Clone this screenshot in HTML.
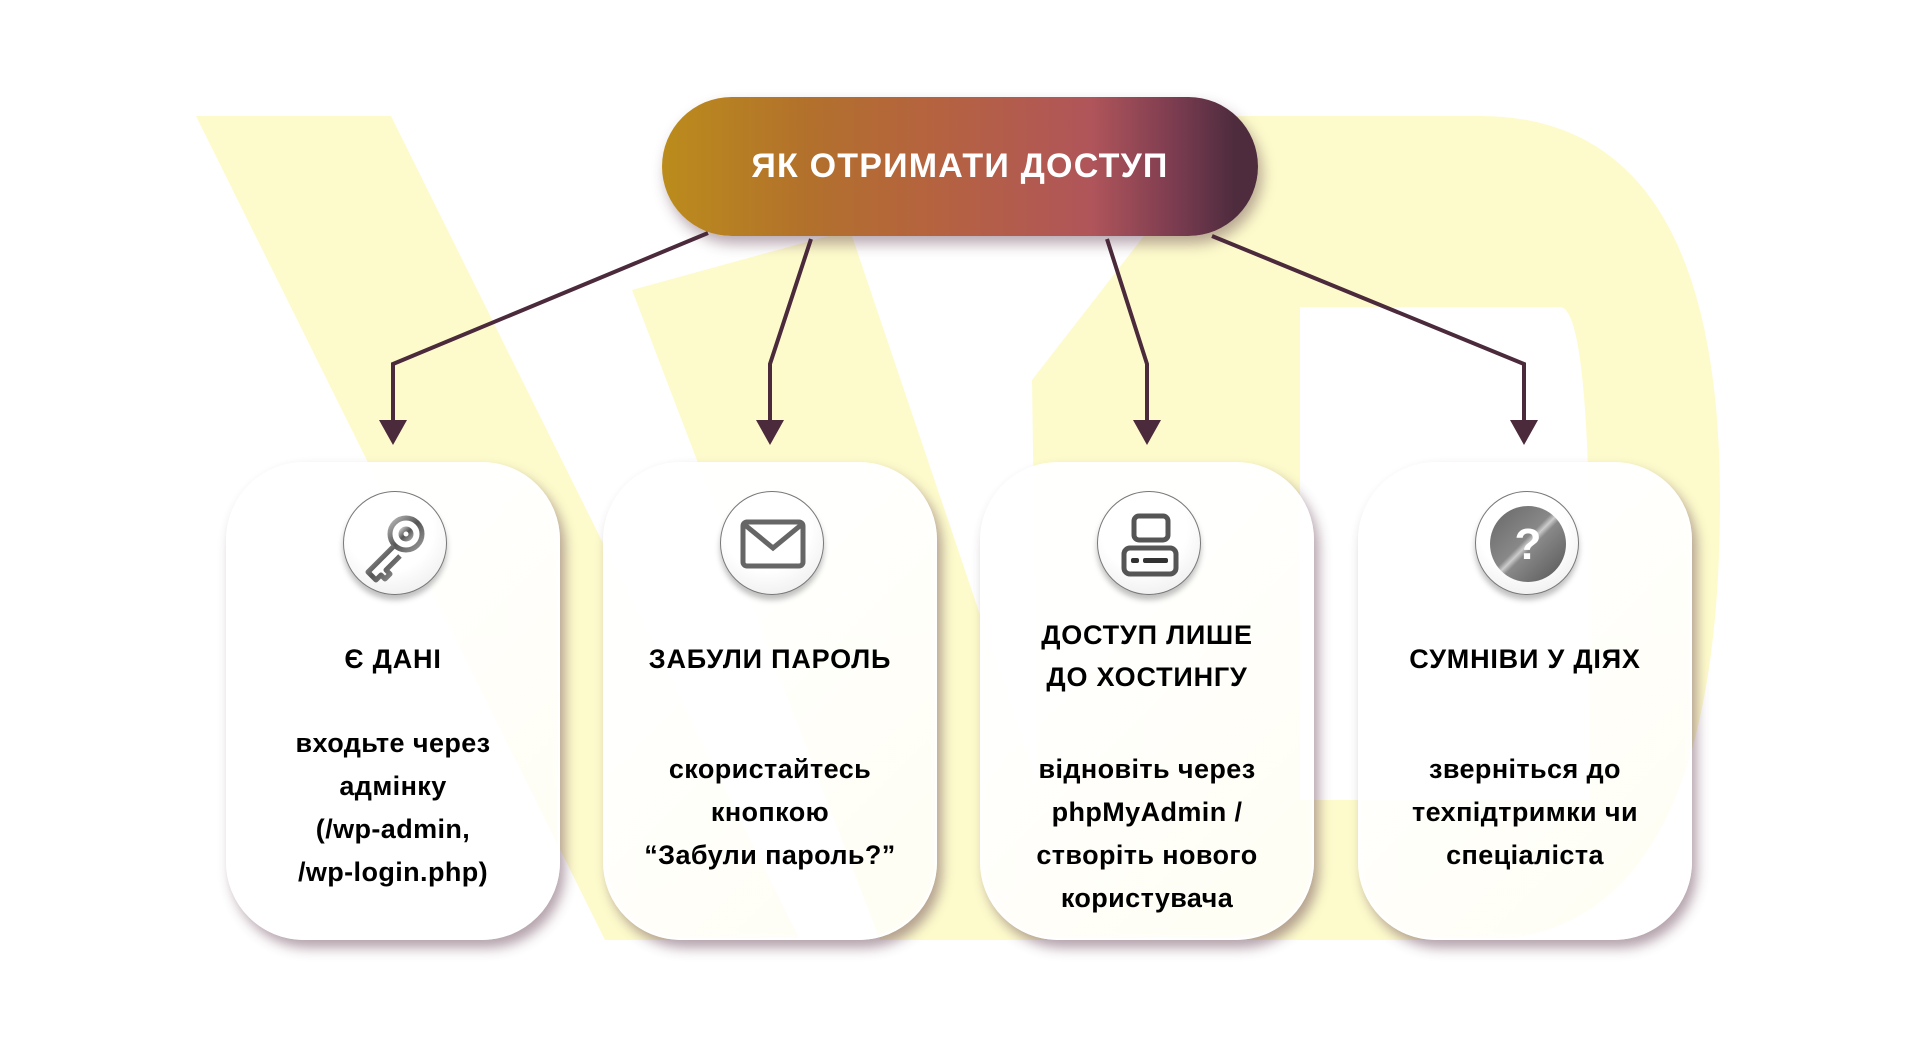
<!DOCTYPE html>
<html><head><meta charset="utf-8"><style>
html,body{margin:0;padding:0;background:#fff;}
body{width:1920px;height:1038px;position:relative;overflow:hidden;font-family:"Liberation Sans","DejaVu Sans",sans-serif;}
svg.bg{position:absolute;left:0;top:0;}
.pill{position:absolute;left:662px;top:97px;width:596px;height:139px;border-radius:70px;
background:linear-gradient(90deg,#bb8c1c 0%,#b2702c 25%,#b5633f 45%,#b0555a 72%,#7c3c50 86%,#4e2c3e 96%);
box-shadow:4px 8px 14px rgba(80,40,60,0.4);color:#fff;font-weight:bold;font-size:34px;letter-spacing:1.2px;
display:flex;align-items:center;justify-content:center;}
.card{position:absolute;top:462px;width:334px;height:478px;border-radius:78px;
background:linear-gradient(135deg,rgba(255,255,255,0.97) 35%,rgba(255,255,255,0.75) 100%);
border:2px solid #fff;box-sizing:border-box;
box-shadow:5px 8px 12px rgba(90,50,70,0.45), inset 0 0 10px rgba(255,255,255,0.8);}
.ic{position:absolute;left:115px;top:27px;width:104px;height:104px;border-radius:50%;box-sizing:border-box;
border:1.5px solid #777;background:radial-gradient(circle at 45% 35%,#fff 50%,#e6e6e6 100%);
box-shadow:0 5px 6px rgba(0,0,0,0.25);}
.ic svg{position:absolute;left:0;top:0;}
.t{position:absolute;left:0;width:100%;text-align:center;font-weight:bold;font-size:27px;color:#000;letter-spacing:0.8px;line-height:42px;}
.b{position:absolute;left:0;width:100%;text-align:center;font-weight:bold;font-size:27px;color:#000;letter-spacing:0.4px;line-height:43px;}
</style></head><body>
<svg class="bg" width="1920" height="1038">
<g fill="#fdfbcc">
<polygon points="196,116 391,116 800,940 605,940"/>
<polygon points="632,290 850,230 1090,940 880,940"/>
<path fill-rule="evenodd" d="M1237,116 L1480,116 Q1720,116 1720,500 Q1720,940 1480,940 L1040,940 L1032,380 Z M1300,307 L1560,307 Q1590,307 1590,600 L1590,800 L1300,800 Z"/>
</g>
<g stroke="#4b2a3c" stroke-width="4" fill="none">
<polyline points="708,233 393,364 393,425"/>
<polyline points="811,239 770,364 770,425"/>
<polyline points="1107,239 1147,364 1147,425"/>
<polyline points="1212,236 1524,364 1524,425"/>
</g>
<g fill="#4b2a3c">
<polygon points="379,420 407,420 393,445"/>
<polygon points="756,420 784,420 770,445"/>
<polygon points="1133,420 1161,420 1147,445"/>
<polygon points="1510,420 1538,420 1524,445"/>
</g>
</svg>
<div class="pill">ЯК ОТРИМАТИ ДОСТУП</div>

<div class="card" style="left:226px">
<div class="ic"><svg width="104" height="104"><defs><linearGradient id="g1" x1="0" y1="0" x2="1" y2="1"><stop offset="0" stop-color="#bbb"/><stop offset="0.5" stop-color="#555"/><stop offset="1" stop-color="#999"/></linearGradient></defs>
<g fill="none" stroke="url(#g1)" stroke-width="5" stroke-linejoin="round"><circle cx="62" cy="42" r="16"/><circle cx="62" cy="42" r="5"/><path d="M50,54 L24,80 L32,88 L37,83 L41,87 L46,82 L42,78 L56,64"/></g></svg></div>
<div class="t" style="top:174px">Є ДАНІ</div>
<div class="b" style="top:258px">входьте через<br>адмінку<br>(/wp-admin,<br>/wp-login.php)</div>
</div>

<div class="card" style="left:603px">
<div class="ic"><svg width="104" height="104"><rect x="22" y="30" width="60" height="44" rx="4" fill="none" stroke="#666" stroke-width="5"/><polyline points="24,33 52,56 80,33" fill="none" stroke="#666" stroke-width="5"/></svg></div>
<div class="t" style="top:174px">ЗАБУЛИ ПАРОЛЬ</div>
<div class="b" style="top:284px">скористайтесь<br>кнопкою<br>“Забули пароль?”</div>
</div>

<div class="card" style="left:980px">
<div class="ic"><svg width="104" height="104"><rect x="36" y="24" width="34" height="24" rx="5" fill="none" stroke="#555" stroke-width="5"/><rect x="26" y="56" width="52" height="26" rx="6" fill="none" stroke="#555" stroke-width="5"/><rect x="33" y="66" width="8" height="5" rx="2" fill="#333"/><rect x="45" y="66" width="25" height="5" rx="2" fill="#333"/></svg></div>
<div class="t" style="top:150px">ДОСТУП ЛИШЕ<br>ДО ХОСТИНГУ</div>
<div class="b" style="top:284px">відновіть через<br>phpMyAdmin /<br>створіть нового<br>користувача</div>
</div>

<div class="card" style="left:1358px">
<div class="ic"><svg width="104" height="104"><defs><linearGradient id="g4" x1="0" y1="0" x2="1" y2="1"><stop offset="0" stop-color="#666"/><stop offset="0.45" stop-color="#888"/><stop offset="0.5" stop-color="#ccc"/><stop offset="0.55" stop-color="#888"/><stop offset="1" stop-color="#555"/></linearGradient></defs><circle cx="52" cy="52" r="38" fill="url(#g4)"/><text x="52" y="67" text-anchor="middle" font-family="Liberation Sans, sans-serif" font-weight="bold" font-size="44" fill="#fff">?</text></svg></div>
<div class="t" style="top:174px">СУМНІВИ У ДІЯХ</div>
<div class="b" style="top:284px">зверніться до<br>техпідтримки чи<br>спеціаліста</div>
</div>
</body></html>
